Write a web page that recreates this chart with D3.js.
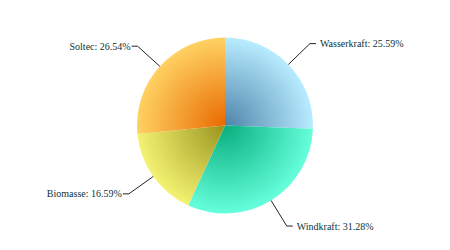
<html>
<head>
  <meta charset="utf-8">
  <title>Energie Pie</title>
  <style>
    body { margin: 0; background: #fff; }
    .label { font: 10px "Liberation Serif", "Times New Roman", serif; fill: #0e3236; }
  </style>
  <script src="https://d3js.org/d3.v7.min.js"></script>
</head>
<body>
  <div id="chart"></div>
  <script>
    // Data
    const categories = ["Wasserkraft", "Windkraft", "Biomasse", "Soltec"];
    const values = [25.59, 31.28, 16.59, 26.54];
    const innerColors = ["#4f84ab", "#08ae7e", "#9a941e", "#e96a00"];
    const outerColors = ["#b8ecff", "#66ffdc", "#f4f272", "#ffd163"];

    const width = 450, height = 250;
    const cx = 225, cy = 125.5, radius = 88;

    const data = categories.map((c, i) => ({ name: c, value: values[i], i }));

    const svg = d3.select("#chart")
      .append("svg")
      .attr("width", width)
      .attr("height", height);

    // Radial gradients, dark at the centre, light at the rim
    const defs = svg.append("defs");
    data.forEach(d => {
      const g = defs.append("radialGradient")
        .attr("id", `grad${d.i}`)
        .attr("gradientUnits", "userSpaceOnUse")
        .attr("cx", 0).attr("cy", 0).attr("r", radius);
      g.append("stop").attr("offset", "0%").attr("stop-color", innerColors[d.i]);
      g.append("stop").attr("offset", "100%").attr("stop-color", outerColors[d.i]);
    });

    const pie = d3.pie().value(d => d.value).sort(null);
    const arc = d3.arc().innerRadius(0).outerRadius(radius);
    const arcs = pie(data);

    const g = svg.append("g").attr("transform", `translate(${cx},${cy})`);

    g.selectAll("path.slice")
      .data(arcs)
      .join("path")
      .attr("class", "slice")
      .attr("d", arc)
      .attr("fill", d => `url(#grad${d.data.i})`);

    // Leader lines and labels
    const outerR = 118, tail = 6;
    arcs.forEach(d => {
      const a = (d.startAngle + d.endAngle) / 2;
      const sx = radius * Math.sin(a), sy = -radius * Math.cos(a);
      const ox = outerR * Math.sin(a), oy = -outerR * Math.cos(a);
      const right = Math.sin(a) > 0;
      const ex = ox + (right ? tail : -tail);
      g.append("polyline")
        .attr("points", `${sx},${sy} ${ox},${oy} ${ex},${oy}`)
        .attr("fill", "none")
        .attr("stroke", "#222")
        .attr("stroke-width", 1);
      g.append("text")
        .attr("class", "label")
        .attr("x", ex + (right ? 4 : -1))
        .attr("y", oy)
        .attr("dy", "0.35em")
        .attr("text-anchor", right ? "start" : "end")
        .text(`${d.data.name}: ${d.data.value.toFixed(2)}%`);
    });
  </script>
</body>
</html>
